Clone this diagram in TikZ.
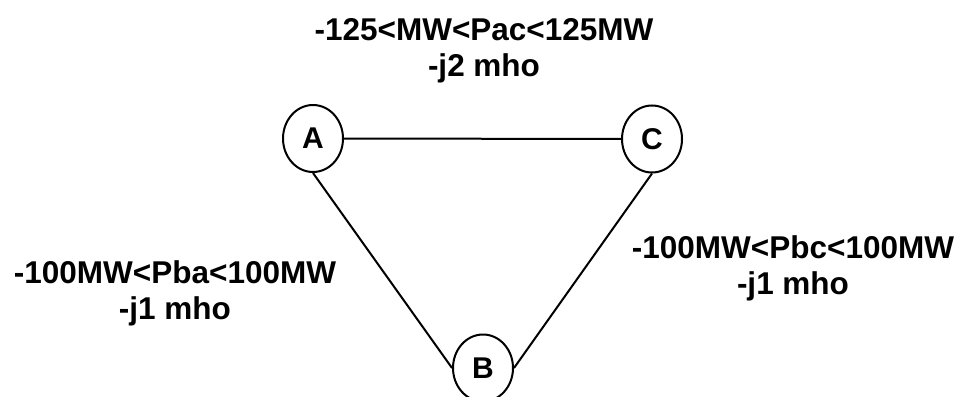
\documentclass[tikz,border=0pt]{standalone}
\usepackage{fontspec}
\setmainfont{Liberation Sans}
\usetikzlibrary{shapes.geometric}

\begin{document}
\begin{tikzpicture}
            [x=1pt, y=-1pt, line width=2pt,
             bus/.style={shape=ellipse, draw=black, inner sep=0pt, minimum width=60pt, minimum height=67pt, font=\fontsize{30}{34}\selectfont\bfseries},
             limit/.style={align=center, inner sep=0pt, font=\fontsize{31.5}{36}\selectfont\bfseries}]
            \useasboundingbox (0, 0) rectangle (960, 396);
            \node[bus] (A) at (313, 138.5) {A};
            \node[bus] (C) at (652, 139) {C};
            \node[bus] (B) at (483, 368) {B};

            \node[limit] (lineAC) at (484, 50.5) {-125<MW<Pac<125MW\\-j2 mho};
            \node[limit] (lineAB) at (175, 293) {-100MW<Pba<100MW\\-j1 mho};
            \node[limit] (lineBC) at (793, 268.5) {-100MW<Pbc<100MW\\-j1 mho};

            \path (A) edge (C);
            \path (A.south) edge (B.west);
            \path (C.south) edge (B.east);
        \end{tikzpicture}
\end{document}
